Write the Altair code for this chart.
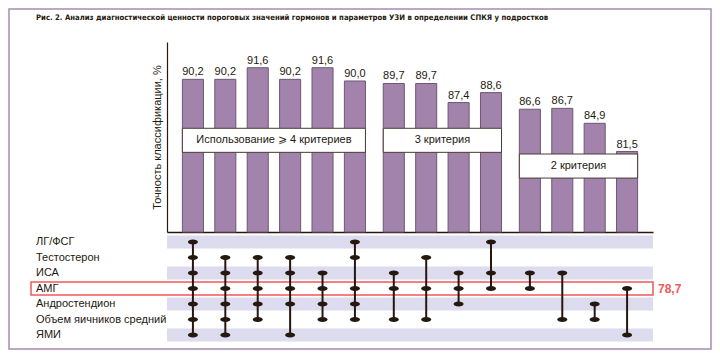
import altair as alt
import pandas as pd

# ---------------- data ----------------
TITLE = ("Рис. 2. Анализ диагностической ценности пороговых значений гормонов "
         "и параметров УЗИ в определении СПКЯ у подростков")
Y_TITLE = "Точность классификации, %"
MARKERS = ["ЛГ/ФСГ", "Тестостерон", "ИСА", "АМГ", "Андростендион",
           "Объем яичников средний", "ЯМИ"]
ACCURACY = [90.2, 90.2, 91.6, 90.2, 91.6, 90.0,
            89.7, 89.7, 87.4, 88.6,
            86.6, 86.7, 84.9, 81.5]
GROUPS = ["Использование ⩾ 4 критериев", "3 критерия", "2 критерия"]
GROUP_OF = [0, 0, 0, 0, 0, 0, 1, 1, 1, 1, 2, 2, 2, 2]
COMBOS = [
    ["ЛГ/ФСГ", "Тестостерон", "ИСА", "АМГ", "Андростендион", "Объем яичников средний", "ЯМИ"],
    ["Тестостерон", "ИСА", "АМГ", "Андростендион", "Объем яичников средний", "ЯМИ"],
    ["Тестостерон", "ИСА", "АМГ", "Андростендион", "Объем яичников средний"],
    ["Тестостерон", "ИСА", "АМГ", "Андростендион", "ЯМИ"],
    ["ИСА", "АМГ", "Андростендион", "Объем яичников средний"],
    ["ЛГ/ФСГ", "Тестостерон", "АМГ", "Андростендион", "Объем яичников средний"],
    ["ИСА", "АМГ", "Объем яичников средний"],
    ["Тестостерон", "АМГ", "Объем яичников средний"],
    ["ИСА", "АМГ", "Андростендион"],
    ["ЛГ/ФСГ", "ИСА", "АМГ"],
    ["ИСА", "АМГ"],
    ["ИСА", "Объем яичников средний"],
    ["Андростендион", "Объем яичников средний"],
    ["АМГ", "ЯМИ"],
]
HIGHLIGHT = "АМГ"
HIGHLIGHT_VALUE = 78.7
BOX_TOP = [84.3, 84.3, 81.2]   # level of group label boxes (in % units)

# ---------------- layout / style ----------------
W, H = 702, 340
GAP = 0.2          # extra space between groups (column units)
PAD = 0.8          # margin at ends of x axis (column units)
BAR_HALF = 0.325
BOX_H = 2.9
X_RANGE = [158, 644]
Y_DOMAIN = [71.8, 94.7]
Y_RANGE = [223, 33]
ROW_RANGE = [233, 326]
ROW_HALF = 0.42
FONT = "Liberation Sans"
TITLE_FONT = "DejaVu Sans Condensed, Liberation Sans"
INK = "#24180f"
BAR = "#a283ab"
BAR_EDGE = "#6c5872"
BAND = "#dddbee"
RED = "#f0585a"
FRAME = "#a98aae"
ELLIPSE = "M-1,0A1,0.5,0,1,0,1,0A1,0.5,0,1,0,-1,0Z"

def fmt(v):
    return f"{v:.1f}".replace(".", ",")

pos = [i + GAP * g for i, g in enumerate(GROUP_OF)]
ridx = {m: i for i, m in enumerate(MARKERS)}

bars = pd.DataFrame({
    "pos": pos, "value": ACCURACY, "label": [fmt(v) for v in ACCURACY],
    "x0": [p - BAR_HALF for p in pos], "x1": [p + BAR_HALF for p in pos],
    "base": Y_DOMAIN[0],
})
dots = pd.DataFrame([{"pos": p, "row": ridx[m], "marker": m}
                     for p, c in zip(pos, COMBOS) for m in c])
lines = dots.groupby("pos")["row"].agg(["min", "max"]).reset_index()
boxes = pd.DataFrame([{
    "group": name,
    "x0": min(p for p, g in zip(pos, GROUP_OF) if g == k) - BAR_HALF,
    "x1": max(p for p, g in zip(pos, GROUP_OF) if g == k) + BAR_HALF,
    "top": BOX_TOP[k], "bottom": BOX_TOP[k] - BOX_H,
} for k, name in enumerate(GROUPS)])
boxes["xm"] = (boxes.x0 + boxes.x1) / 2
boxes["ym"] = (boxes.top + boxes.bottom) / 2
rows = pd.DataFrame({"marker": MARKERS, "row": range(len(MARKERS))})
bands = rows[rows.row % 2 == 0].copy()
bands["y0"] = bands.row - ROW_HALF
bands["y1"] = bands.row + ROW_HALF
bands["x0"] = -PAD
bands["x1"] = max(pos) + PAD
hl = pd.DataFrame({"row": [ridx[HIGHLIGHT]], "label": [fmt(HIGHLIGHT_VALUE)]})
hl["y0"] = hl.row - ROW_HALF
hl["y1"] = hl.row + ROW_HALF

# ---------------- scales & axes ----------------
xs = alt.Scale(domain=[-PAD, max(pos) + PAD], range=X_RANGE, nice=False, zero=False)
ys = alt.Scale(domain=Y_DOMAIN, range=Y_RANGE, nice=False, zero=False)
rs = alt.Scale(domain=[0, len(MARKERS) - 1], range=ROW_RANGE, nice=False, zero=False)

X_AXIS = dict(domain=True, domainColor=INK, domainWidth=1.5, ticks=False,
              labels=False, grid=False, title=None, offset=-(H - Y_RANGE[0]))
Y_AXIS = dict(domain=True, domainColor=INK, domainWidth=1.2, ticks=False,
              labels=False, grid=False, title=Y_TITLE, titleFont=FONT,
              titleFontSize=11, titleFontWeight="normal", titleColor=INK,
              titlePadding=5, offset=-X_RANGE[0])

def X(field):
    return alt.X(field, scale=xs, axis=alt.Axis(**X_AXIS))

def Y(field):
    return alt.Y(field, scale=ys, axis=alt.Axis(**Y_AXIS))

def R(field):
    return alt.Y(field, scale=rs, axis=None)

# ---------------- bar panel ----------------
bar = alt.Chart(bars).mark_bar(color=BAR, stroke=BAR_EDGE, strokeWidth=1).encode(
    x=X("x0:Q"), x2="x1:Q", y=Y("value:Q"), y2="base:Q")
bar_text = alt.Chart(bars).mark_text(baseline="bottom", dy=-2, font=FONT,
                                     fontSize=11, color=INK).encode(
    x=X("pos:Q"), y=Y("value:Q"), text="label:N")
box = alt.Chart(boxes).mark_rect(fill="white", stroke="#4a3c36", strokeWidth=1).encode(
    x=X("x0:Q"), x2="x1:Q", y=Y("top:Q"), y2="bottom:Q")
box_text = alt.Chart(boxes).mark_text(font=FONT, fontSize=11, color=INK,
                                      baseline="middle").encode(
    x=X("xm:Q"), y=Y("ym:Q"), text="group:N")
top = alt.layer(bar, bar_text, box, box_text)

# ---------------- matrix panel ----------------
band = alt.Chart(bands).mark_rect(color=BAND).encode(
    x=X("x0:Q"), x2="x1:Q", y=R("y0:Q"), y2="y1:Q")
hl_box = alt.Chart(hl).mark_rect(fillOpacity=0, fill="white", stroke=RED,
                                 strokeWidth=1.5).encode(
    x=alt.value(22), x2=alt.value(X_RANGE[1]), y=R("y0:Q"), y2="y1:Q")
hl_text = alt.Chart(hl).mark_text(align="left", baseline="middle", font=FONT,
                                  fontSize=12, fontWeight="bold", color=RED).encode(
    x=alt.value(X_RANGE[1] + 5), y=R("row:Q"), text="label:N")
rule = alt.Chart(lines).mark_rule(color=INK, strokeWidth=2).encode(
    x=X("pos:Q"), y=R("min:Q"), y2="max:Q")
dot = alt.Chart(dots).mark_point(shape=ELLIPSE, filled=True, size=100,
                                 color=INK, opacity=1).encode(
    x=X("pos:Q"), y=R("row:Q"))
row_lab = alt.Chart(rows).mark_text(align="left", baseline="middle", font=FONT,
                                    fontSize=11, color=INK).encode(
    x=alt.value(27), y=R("row:Q"), text="marker:N")
bottom = alt.layer(band, hl_box, rule, dot, row_lab, hl_text)

title = alt.Chart(pd.DataFrame({"t": [TITLE]})).mark_text(
    align="left", baseline="middle", font=TITLE_FONT,
    fontSize=7.7, fontWeight="bold", color=INK).encode(
    x=alt.value(27), y=alt.value(9), text="t:N")

chart = alt.layer(top, bottom, title).resolve_scale(y="independent").properties(
    width=W, height=H, padding=1
).configure_view(stroke=FRAME, strokeWidth=1.5)

chart.save("out.html", embed_options={"renderer": "svg", "actions": False})
